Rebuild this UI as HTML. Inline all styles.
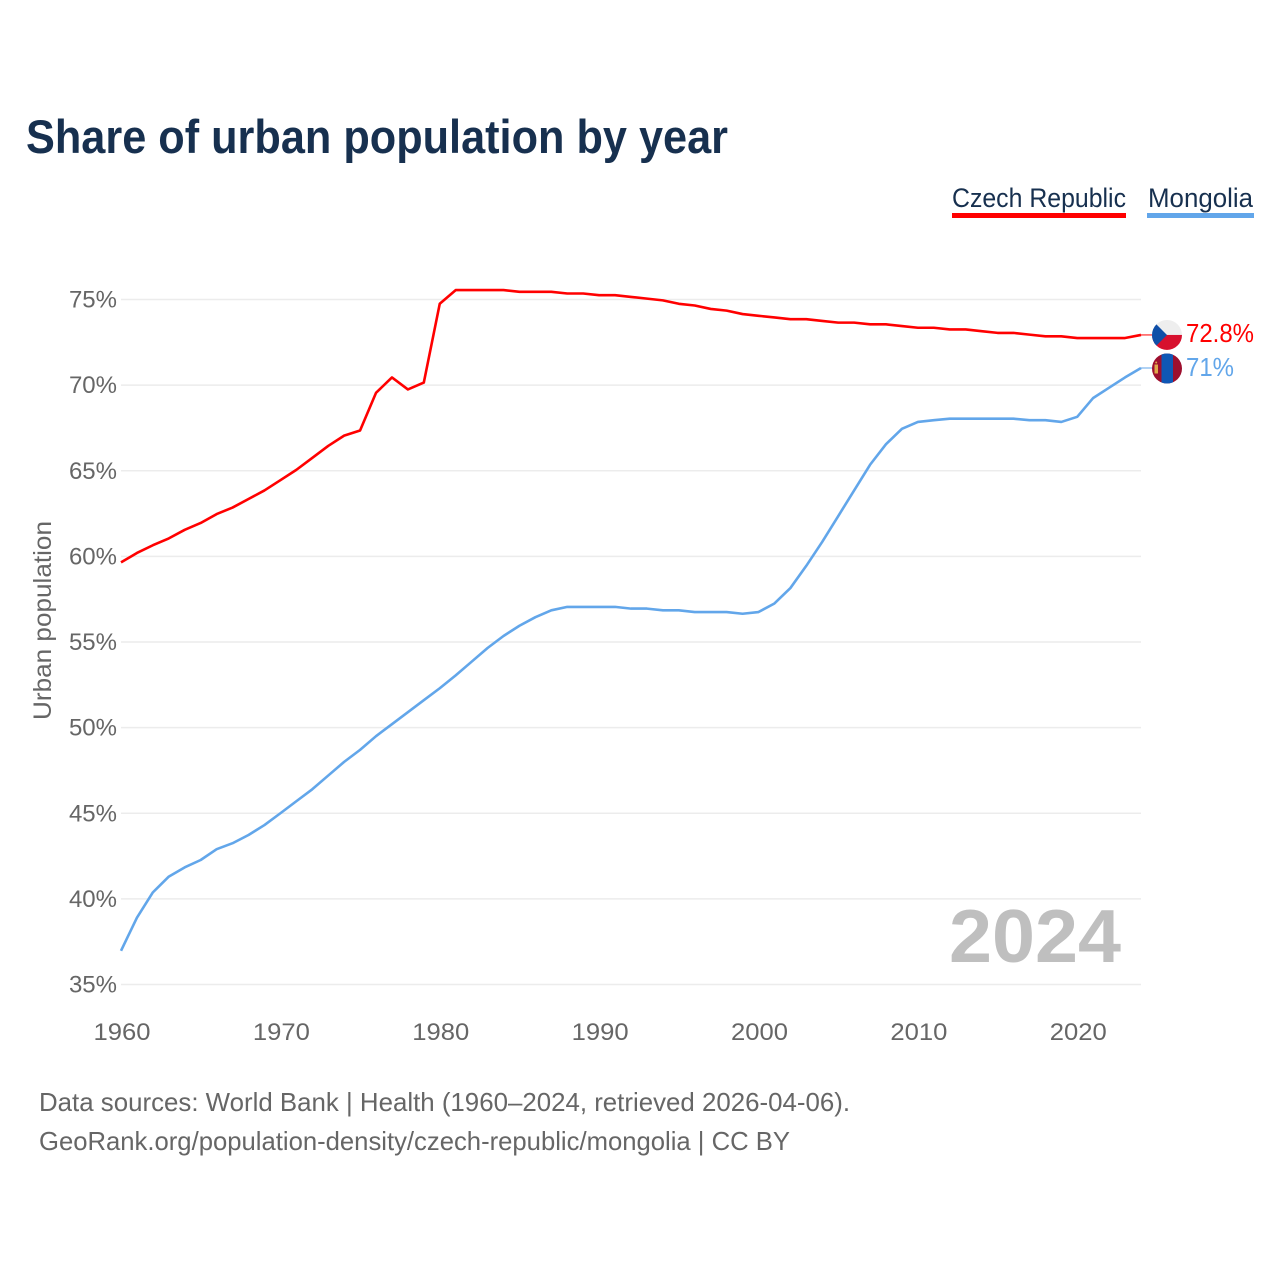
<!DOCTYPE html>
<html lang="en">
<head>
<meta charset="utf-8">
<title>Share of urban population by year</title>
<style>
html,body{margin:0;padding:0;background:#fff;width:1280px;height:1280px;overflow:hidden}
svg{display:block}
text{font-family:"Liberation Sans",sans-serif}
</style>
</head>
<body>
<svg id="chart" xmlns="http://www.w3.org/2000/svg" width="1280" height="1280" viewBox="0 0 1280 1280">
  <defs>
    <clipPath id="clip-cz"><circle cx="15" cy="15" r="15"></circle></clipPath>
    <clipPath id="clip-mn"><circle cx="15" cy="15" r="15"></circle></clipPath>
  </defs>
  <rect x="0" y="0" width="1280" height="1280" fill="#fff"></rect>
  <text x="26" y="153" font-size="47" font-weight="700" fill="#17304f" textLength="702" lengthAdjust="spacingAndGlyphs">Share of urban population by year</text>

  <g>
    <text x="952" y="207" font-size="27" fill="#17304f" textLength="174" lengthAdjust="spacingAndGlyphs">Czech Republic</text>
    <rect x="952" y="213" width="174" height="5" fill="#ff0000"></rect>
  </g>
  <g>
    <text x="1148" y="207" font-size="27" fill="#17304f" textLength="105" lengthAdjust="spacingAndGlyphs">Mongolia</text>
    <rect x="1147" y="213" width="107" height="5" fill="#62a6ea"></rect>
  </g>

  <text transform="translate(51,720) rotate(-90)" x="0" y="0" font-size="25" fill="#666" textLength="199" lengthAdjust="spacingAndGlyphs">Urban population</text>

  <g id="grid"></g>
  <g id="y-ticks"></g>
  <g id="x-ticks"></g>

  <text x="949" y="962" font-size="75" font-weight="700" fill="#bfbfbf" textLength="172" lengthAdjust="spacingAndGlyphs">2024</text>

  <g id="series"></g>
  <g id="end-labels"></g>

  <text x="39" y="1111" font-size="26" fill="#666" textLength="811" lengthAdjust="spacingAndGlyphs">Data sources: World Bank | Health (1960–2024, retrieved 2026-04-06).</text>
  <text x="39" y="1150" font-size="26" fill="#666" textLength="751" lengthAdjust="spacingAndGlyphs">GeoRank.org/population-density/czech-republic/mongolia | CC BY</text>
</svg>

<script>
var years = [1960,1961,1962,1963,1964,1965,1966,1967,1968,1969,1970,1971,1972,1973,1974,1975,1976,1977,1978,1979,1980,1981,1982,1983,1984,1985,1986,1987,1988,1989,1990,1991,1992,1993,1994,1995,1996,1997,1998,1999,2000,2001,2002,2003,2004,2005,2006,2007,2008,2009,2010,2011,2012,2013,2014,2015,2016,2017,2018,2019,2020,2021,2022,2023,2024];
var czechValues = [59.65,60.2,60.65,61.05,61.55,61.95,62.47,62.85,63.35,63.85,64.45,65.05,65.75,66.45,67.05,67.35,69.55,70.45,69.75,70.15,74.75,75.55,75.55,75.55,75.55,75.45,75.45,75.45,75.35,75.35,75.25,75.25,75.15,75.05,74.95,74.75,74.65,74.45,74.35,74.15,74.05,73.95,73.85,73.85,73.75,73.65,73.65,73.55,73.55,73.45,73.35,73.35,73.25,73.25,73.15,73.05,73.05,72.95,72.85,72.85,72.75,72.75,72.75,72.75,72.93];
var mongoliaValues = [36.97,38.9,40.38,41.3,41.84,42.27,42.9,43.25,43.73,44.31,45.0,45.7,46.4,47.2,48.0,48.7,49.5,50.2,50.9,51.6,52.3,53.05,53.85,54.65,55.35,55.95,56.45,56.85,57.05,57.05,57.05,57.05,56.95,56.95,56.85,56.85,56.75,56.75,56.75,56.65,56.75,57.25,58.15,59.45,60.85,62.35,63.85,65.35,66.55,67.45,67.85,67.95,68.04,68.04,68.04,68.04,68.04,67.95,67.95,67.85,68.15,69.25,69.85,70.45,71.0];
var yTickValues = [35,40,45,50,55,60,65,70,75];
var xTickValues = [1960,1970,1980,1990,2000,2010,2020];
var czechLabel = "72.8%";
var mongoliaLabel = "71%";

var SVGNS = "http://www.w3.org/2000/svg";
function xScale(year){ return 121 + (year - 1960) * (1141 - 121) / (2024 - 1960); }
function yScale(v){ return 984.5 - (v - 35) * (984.5 - 299.5) / (75 - 35); }
function make(tag, parent){
  var el = document.createElementNS(SVGNS, tag);
  parent.appendChild(el);
  return el;
}
function setAll(el, props){
  for (var k in props) el.setAttribute(k, props[k]);
}
function linePath(values){
  return values.map(function(v, i){
    return (i ? "L" : "M") + xScale(years[i]).toFixed(2) + " " + yScale(v).toFixed(2);
  }).join(" ");
}

var grid = document.getElementById("grid");
var yTicks = document.getElementById("y-ticks");
yTickValues.forEach(function(v){
  var line = make("line", grid);
  
  
  setAll(line, {x1:121, x2:1141, y1:yScale(v), y2:yScale(v), stroke:"#ececec", "stroke-width":1.6});
  var t = make("text", yTicks);
  
  
  setAll(t, {x:117, y:yScale(v) + 8, "text-anchor":"end", "font-size":24, fill:"#666"});
  t.textContent = v + "%";
});

var xTicks = document.getElementById("x-ticks");
xTickValues.forEach(function(y){
  var t = make("text", xTicks);
  
  
  setAll(t, {x:xScale(y) + 1, y:1040, "text-anchor":"middle", "font-size":24.5, fill:"#666", textLength:57, lengthAdjust:"spacingAndGlyphs"});
  t.textContent = y;
});

var seriesGroup = document.getElementById("series");
var czechLine = make("path", seriesGroup);


setAll(czechLine, {d:linePath(czechValues), fill:"none", stroke:"#ff0000", "stroke-width":2.6, "stroke-linejoin":"round"});
var mongoliaLine = make("path", seriesGroup);


setAll(mongoliaLine, {d:linePath(mongoliaValues), fill:"none", stroke:"#62a6ea", "stroke-width":2.6, "stroke-linejoin":"round"});

var endGroup = document.getElementById("end-labels");
var czechY = yScale(czechValues[czechValues.length - 1]);
var mongoliaY = yScale(mongoliaValues[mongoliaValues.length - 1]);
var endX = xScale(years[years.length - 1]);

var czechConn = make("line", endGroup);


setAll(czechConn, {x1:endX, x2:endX + 12, y1:czechY, y2:czechY, stroke:"#ff0000", "stroke-width":1});
var mongoliaConn = make("line", endGroup);


setAll(mongoliaConn, {x1:endX, x2:endX + 12, y1:mongoliaY, y2:mongoliaY, stroke:"#62a6ea", "stroke-width":1});

var czFlag = make("g", endGroup);


setAll(czFlag, {transform:"translate(" + (endX + 11) + "," + (czechY - 15) + ")", "clip-path":"url(#clip-cz)"});
var czTop = make("rect", czFlag);
setAll(czTop, {x:0, y:0, width:30, height:15, fill:"#eeeeee"});
var czBottom = make("rect", czFlag);
setAll(czBottom, {x:0, y:15, width:30, height:15, fill:"#d7102e"});
var czTri = make("polygon", czFlag);
setAll(czTri, {points:"0,0 15,15 0,30", fill:"#0f4fa8"});

var mnFlag = make("g", endGroup);


setAll(mnFlag, {transform:"translate(" + (endX + 11) + "," + (mongoliaY - 14.5) + ")", "clip-path":"url(#clip-mn)"});
var mnBase = make("rect", mnFlag);
setAll(mnBase, {x:0, y:0, width:30, height:30, fill:"#9d0f2e"});
var mnBlue = make("rect", mnFlag);
setAll(mnBlue, {x:9.5, y:0, width:11.5, height:30, fill:"#0f57b5"});
var mnSym = make("rect", mnFlag);
setAll(mnSym, {x:2.5, y:11, width:3.5, height:9, fill:"#e0a94a"});
var mnSymDot = make("circle", mnFlag);
setAll(mnSymDot, {cx:4.2, cy:9, r:1, fill:"#e0a94a"});

var czText = make("text", endGroup);


setAll(czText, {x:1186, y:czechY + 7, "font-size":25.5, fill:"#ff0000", textLength:68, lengthAdjust:"spacingAndGlyphs"});
czText.textContent = czechLabel;
var mnText = make("text", endGroup);


setAll(mnText, {x:1186, y:mongoliaY + 8, "font-size":25.5, fill:"#62a6ea", textLength:48, lengthAdjust:"spacingAndGlyphs"});
mnText.textContent = mongoliaLabel;
</script>
</body>
</html>
